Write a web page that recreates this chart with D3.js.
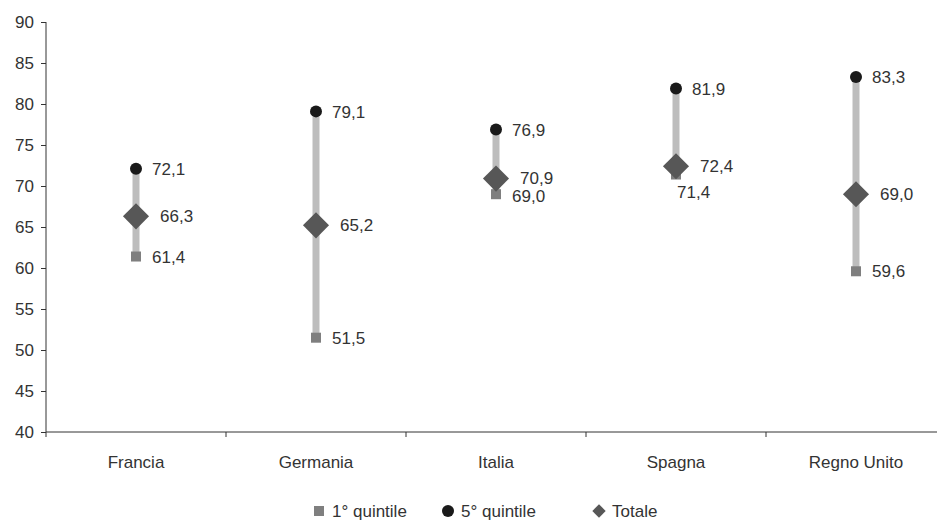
<!DOCTYPE html>
<html>
<head>
<meta charset="utf-8">
<script src="https://cdn.jsdelivr.net/npm/d3@7"></script>
<style>
  body { margin: 0; background: #fff; }
  text { font-family: "Liberation Sans", Arial, sans-serif; fill: #333; }
</style>
</head>
<body>
<div id="graph"></div>
<script>
var countries = ["Francia", "Germania", "Italia", "Spagna", "Regno Unito"];
var q1     = [61.4, 51.5, 69.0, 71.4, 59.6];
var q5     = [72.1, 79.1, 76.9, 81.9, 83.3];
var totale = [66.3, 65.2, 70.9, 72.4, 69.0];
var yTicks = [40, 45, 50, 55, 60, 65, 70, 75, 80, 85, 90];
var legendLabels = ["1° quintile", "5° quintile", "Totale"];

var W = 937, H = 520;
var margin = { top: 22, right: 0, bottom: 88, left: 46 };
var FS = "17px";

var svg = d3.select("#graph").append("svg")
  .attr("width", W).attr("height", H);

var x = d3.scaleBand().domain(countries)
  .range([margin.left, margin.left + 180 * 5]).padding(0);
var y = d3.scaleLinear().domain([40, 90]).range([H - margin.bottom, margin.top]);

var fmt = v => d3.format(".1f")(v).replace(".", ",");

// y axis
var yAxisG = svg.append("g")
  .attr("transform", `translate(${margin.left},0)`)
  .call(d3.axisLeft(y).tickValues(yTicks).tickSize(5).tickPadding(7));
yAxisG.select(".domain").attr("d", `M0,${y(90)}V${y(40) + 5}`).attr("stroke", "#333");
yAxisG.selectAll("line").attr("stroke", "#333");
yAxisG.selectAll("text").style("font-size", FS).attr("fill", "#333");

// x axis
var xAxisG = svg.append("g")
  .attr("transform", `translate(0,${y(40)})`);
xAxisG.append("line")
  .attr("x1", margin.left).attr("x2", W)
  .attr("stroke", "#333");
xAxisG.selectAll(".tk").data(countries.slice(1)).enter().append("line")
  .attr("x1", d => x(d)).attr("x2", d => x(d))
  .attr("y1", 0).attr("y2", 5).attr("stroke", "#333");
xAxisG.selectAll(".lbl").data(countries).enter().append("text")
  .attr("x", d => x(d) + x.bandwidth() / 2)
  .attr("y", 36)
  .attr("text-anchor", "middle")
  .style("font-size", FS)
  .text(d => d);

var rows = countries.map((c, i) => ({ c: c, q1: q1[i], q5: q5[i], t: totale[i] }));
var cx = d => x(d.c) + x.bandwidth() / 2;

var g = svg.append("g");
// range bars
g.selectAll(".rng").data(rows).enter().append("line")
  .attr("x1", cx).attr("x2", cx)
  .attr("y1", d => y(d.q1)).attr("y2", d => y(d.q5))
  .attr("stroke", "#bdbdbd").attr("stroke-width", 7);

// 1° quintile squares
g.selectAll(".sq").data(rows).enter().append("rect")
  .attr("x", d => cx(d) - 5).attr("y", d => y(d.q1) - 5)
  .attr("width", 10).attr("height", 10)
  .attr("fill", "#7f7f7f");

// 5° quintile circles
g.selectAll(".ci").data(rows).enter().append("circle")
  .attr("cx", cx).attr("cy", d => y(d.q5)).attr("r", 6)
  .attr("fill", "#1a1a1a");

// totale diamonds
var diamond = d3.symbol().type(d3.symbolSquare).size(340);
g.selectAll(".dm").data(rows).enter().append("path")
  .attr("d", diamond)
  .attr("transform", d => `translate(${cx(d)},${y(d.t)}) rotate(45)`)
  .attr("fill", "#575757");

// labels
function addLabels(key, dx, dyFn, dxFn) {
  g.selectAll(".l" + key).data(rows).enter().append("text")
    .attr("x", (d, i) => cx(d) + (dxFn ? dxFn(d, i) : dx))
    .attr("y", (d, i) => y(d[key]) + (dyFn ? dyFn(d, i) : 0))
    .attr("dy", "0.36em")
    .style("font-size", FS)
    .text(d => fmt(d[key]));
}
addLabels("q5", 16);
addLabels("t", 24, d => d.c === "Italia" ? -1 : 0);
// Spagna's 1° quintile label sits below its marker
addLabels("q1", 16, d => d.c === "Spagna" ? 17 : (d.c === "Italia" ? 2 : 0), d => d.c === "Spagna" ? 1 : 16);

// legend
var legend = svg.append("g").attr("transform", `translate(0,${H - 9})`);
legend.append("rect").attr("x", 314).attr("y", -5).attr("width", 10).attr("height", 10).attr("fill", "#7f7f7f");
legend.append("circle").attr("cx", 448).attr("cy", 0).attr("r", 6).attr("fill", "#1a1a1a");
legend.append("path").attr("d", d3.symbol().type(d3.symbolSquare).size(90))
  .attr("transform", "translate(599,0) rotate(45)").attr("fill", "#575757");
legend.selectAll(".lt").data(legendLabels).enter().append("text")
  .attr("x", (d, i) => [332, 461, 612][i])
  .attr("y", 0).attr("dy", "0.36em")
  .style("font-size", FS)
  .text(d => d);
</script>
</body>
</html>
